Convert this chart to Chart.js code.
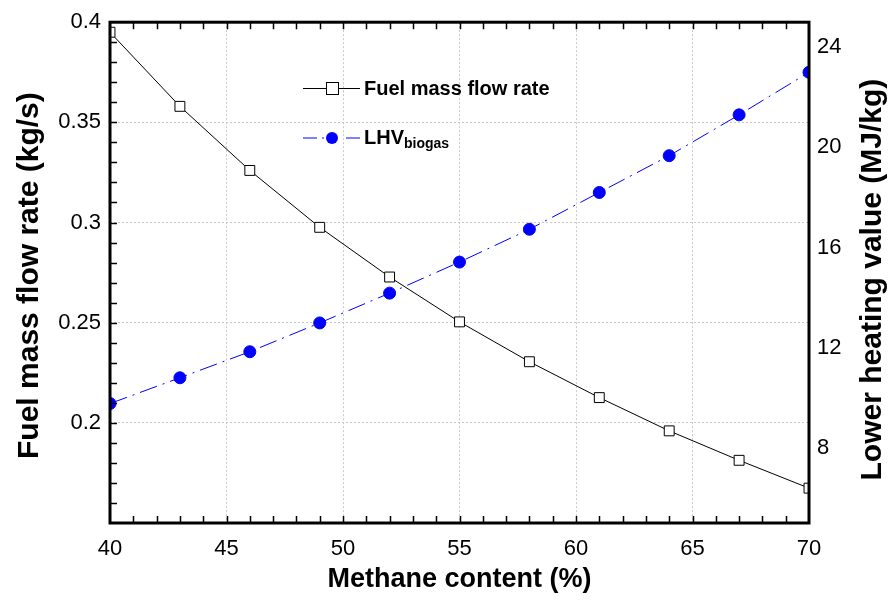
<!DOCTYPE html>
<html>
<head>
<meta charset="utf-8">
<script src="https://cdn.jsdelivr.net/npm/chart.js@4/dist/chart.umd.min.js"></script>
<style>
  html, body { margin: 0; padding: 0; background: #fff; }
  #wrap { width: 890px; height: 602px; }
</style>
</head>
<body>
<div id="wrap"><canvas id="chart" width="890" height="602"></canvas></div>
<script>
// methane content (%)
const methane = [40, 43, 46, 49, 52, 55, 58, 61, 64, 67, 70];
// fuel mass flow rate (kg/s), left axis
const fuelFlow = [0.395, 0.358, 0.326, 0.2976, 0.2728, 0.2504, 0.2305, 0.2126, 0.196, 0.1813, 0.1674];
// LHV of biogas (MJ/kg), right axis
const lhvBiogas = [9.77, 10.8, 11.84, 12.99, 14.18, 15.42, 16.73, 18.2, 19.67, 21.3, 23.0];

const xTicks = [40, 45, 50, 55, 60, 65, 70];
const leftTicks = [0.15, 0.2, 0.25, 0.3, 0.35, 0.4];
const rightTicks = [8, 12, 16, 20, 24];

const xTitle = 'Methane content (%)';
const leftTitle = 'Fuel mass flow rate (kg/s)';
const rightTitle = 'Lower heating value (MJ/kg)';

const FONT = '"Liberation Sans", Arial, sans-serif';
const gridColor = (ctx) => {
  const t = ctx.tick;
  if (!t) return 'rgba(0,0,0,0)';
  const s = ctx.scale;
  if (t.value === s.min || t.value === s.max) return 'rgba(0,0,0,0)';
  return '#c8c8c8';
};

// frame, inner minor ticks, axis titles and the legend
const framePlugin = {
  id: 'frame',
  afterDatasetsDraw(chart) {
    const { ctx, chartArea: a, scales } = chart;
    ctx.save();
    ctx.strokeStyle = '#000';
    ctx.lineWidth = 1.5;
    const tl = 7;
    // x minor ticks, bottom and top
    for (let v = 41; v < 70; v++) {
      const px = Math.round(scales.x.getPixelForValue(v)) + 0.5;
      ctx.beginPath();
      ctx.moveTo(px, a.bottom); ctx.lineTo(px, a.bottom - tl);
      ctx.moveTo(px, a.top); ctx.lineTo(px, a.top + tl);
      ctx.stroke();
    }
    // left minor ticks
    for (let i = 16; i < 40; i++) {
      const py = Math.round(scales.y.getPixelForValue(i / 100)) + 0.5;
      ctx.beginPath();
      ctx.moveTo(a.left, py); ctx.lineTo(a.left + tl, py);
      ctx.stroke();
    }
    ctx.lineWidth = 3;
    ctx.strokeRect(a.left, a.top, a.right - a.left, a.bottom - a.top);

    // axis titles
    const midY = (a.top + a.bottom) / 2 + 3;
    ctx.fillStyle = '#000';
    ctx.textAlign = 'center';
    ctx.textBaseline = 'middle';
    ctx.font = 'bold 30px ' + FONT;
    ctx.save();
    ctx.translate(30, midY);
    ctx.rotate(-Math.PI / 2);
    ctx.fillText(leftTitle, 0, 0);
    ctx.restore();
    ctx.save();
    ctx.translate(873, midY + 4);
    ctx.rotate(-Math.PI / 2);
    ctx.fillText(rightTitle, 0, 0);
    ctx.restore();
    ctx.font = 'bold 27px ' + FONT;
    ctx.fillText(xTitle, (a.left + a.right) / 2, 580);

    // legend
    ctx.textAlign = 'left';
    const lx0 = 303, lx1 = 360, mx = 332;
    let y = 88;
    ctx.lineWidth = 1;
    ctx.beginPath(); ctx.moveTo(lx0, y + 0.5); ctx.lineTo(lx1, y + 0.5); ctx.stroke();
    ctx.fillStyle = '#fff';
    ctx.fillRect(mx - 6, y - 6, 12, 12);
    ctx.strokeRect(mx - 6 + 0.5, y - 6 + 0.5, 12, 12);
    ctx.fillStyle = '#000';
    ctx.font = 'bold 20px ' + FONT;
    ctx.fillText('Fuel mass flow rate', 364, y + 1);

    y = 138;
    ctx.strokeStyle = '#0000ff';
    ctx.beginPath(); ctx.moveTo(lx0, y); ctx.lineTo(lx0 + 14, y); ctx.stroke();
    ctx.beginPath(); ctx.moveTo(lx1 - 14, y); ctx.lineTo(lx1, y); ctx.stroke();
    ctx.beginPath(); ctx.moveTo(mx - 10, y); ctx.lineTo(mx - 8, y); ctx.stroke();
    ctx.fillStyle = '#0000ff';
    ctx.beginPath(); ctx.arc(mx, y, 6, 0, Math.PI * 2); ctx.fill();
    ctx.fillStyle = '#000';
    ctx.font = 'bold 20px ' + FONT;
    ctx.fillText('LHV', 364, y);
    const w = ctx.measureText('LHV').width;
    ctx.font = 'bold 14px ' + FONT;
    ctx.fillText('biogas', 364 + w, y + 6);
    ctx.restore();
  }
};

new Chart(document.getElementById('chart'), {
  type: 'line',
  data: {
    datasets: [
      {
        label: 'Fuel mass flow rate',
        data: methane.map((m, i) => ({ x: m, y: fuelFlow[i] })),
        yAxisID: 'y',
        borderColor: '#000',
        borderWidth: 1,
        pointStyle: 'rect',
        pointRadius: 7,
        pointBackgroundColor: '#fff',
        pointBorderColor: '#000',
        pointBorderWidth: 1,
        tension: 0
      },
      {
        label: 'LHV biogas',
        data: methane.map((m, i) => ({ x: m, y: lhvBiogas[i] })),
        yAxisID: 'y1',
        borderColor: '#0000ff',
        borderWidth: 1,
        borderDash: [18, 6, 2, 6],
        pointStyle: 'circle',
        pointRadius: 6,
        pointBackgroundColor: '#0000ff',
        pointBorderColor: '#0000ff',
        tension: 0
      }
    ]
  },
  options: {
    responsive: false,
    animation: false,
    layout: { padding: { top: 18, left: 0, right: 0, bottom: 0 } },
    plugins: { legend: { display: false }, tooltip: { enabled: false } },
    scales: {
      x: {
        type: 'linear', min: 40, max: 70,
        afterBuildTicks: (s) => { s.ticks = xTicks.map(v => ({ value: v })); },
        afterFit: (s) => { s.height = 79; },
        grid: { color: gridColor, drawTicks: false, lineWidth: 1 },
        border: { display: false, dash: [2, 2] },
        ticks: { color: '#000', padding: 13, font: { family: FONT, size: 22 } }
      },
      y: {
        type: 'linear', position: 'left', min: 0.15, max: 0.4,
        afterBuildTicks: (s) => { s.ticks = leftTicks.map(v => ({ value: v })); },
        afterFit: (s) => { s.width = 110; },
        grid: { color: gridColor, drawTicks: false, lineWidth: 1 },
        border: { display: false, dash: [2, 2] },
        ticks: {
          color: '#000', padding: 9, font: { family: FONT, size: 22 },
          callback: (v) => v < 0.17 ? '' : String(Number(v.toFixed(2)))
        }
      },
      y1: {
        type: 'linear', position: 'right', min: 5, max: 25,
        afterBuildTicks: (s) => { s.ticks = rightTicks.map(v => ({ value: v })); },
        afterFit: (s) => { s.width = 81; },
        grid: { display: false, drawTicks: false },
        border: { display: false },
        ticks: { color: '#000', padding: 8, font: { family: FONT, size: 22 } }
      }
    }
  },
  plugins: [framePlugin]
});
</script>
</body>
</html>
